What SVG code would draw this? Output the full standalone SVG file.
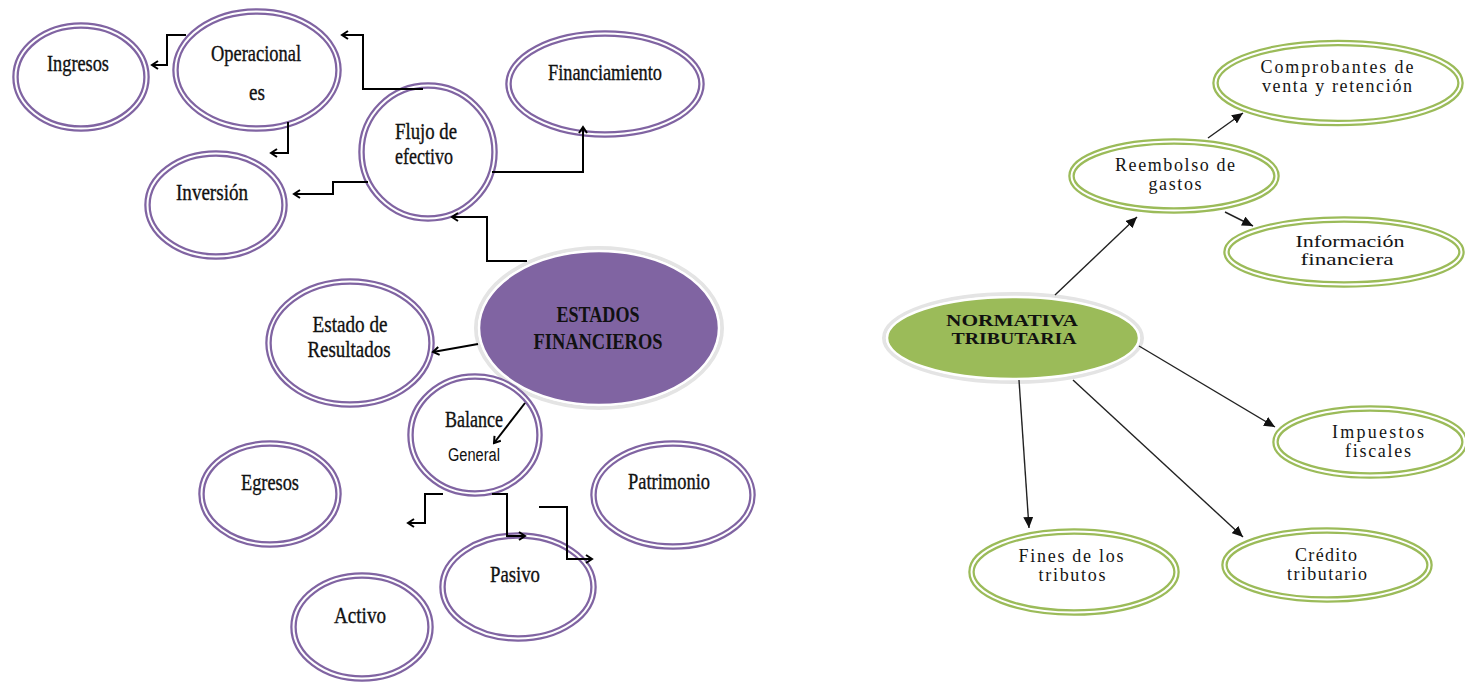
<svg xmlns="http://www.w3.org/2000/svg" width="1465" height="682" viewBox="0 0 1465 682">
  <defs>
    <style>
      .pring { fill: #ffffff; stroke: #8064A2; stroke-width: 6.5; }
      .gring { fill: #ffffff; stroke: #9BBB59; stroke-width: 6.5; }
      .gap { fill: none; stroke: #ffffff; stroke-width: 2; }
      .halo { fill: none; stroke: #e4e4e4; stroke-width: 4; }
      .lt { font-family: "Liberation Serif", "Times New Roman", serif; font-size: 23px; fill: #111111; stroke: #111111; stroke-width: 0.35; text-anchor: middle; }
      .ls { font-family: "Liberation Sans Narrow", "Liberation Sans", Arial, sans-serif; font-size: 18px; fill: #111111; text-anchor: middle; }
      .lb { font-family: "Liberation Serif", "Times New Roman", serif; font-size: 24px; font-weight: bold; fill: #111111; text-anchor: middle; }
      .rt { font-family: "Liberation Serif", "Times New Roman", serif; font-size: 18px; fill: #151515; text-anchor: middle; }
      .rs { font-family: "Liberation Serif", "Times New Roman", serif; font-size: 16.5px; fill: #151515; text-anchor: middle; }
      .rb { font-family: "Liberation Serif", "Times New Roman", serif; font-size: 16.5px; font-weight: bold; fill: #111111; text-anchor: middle; }
      .elb { fill: none; stroke: #000000; stroke-width: 2; marker-end: url(#open); }
      .str { fill: none; stroke: #222222; stroke-width: 1.4; marker-end: url(#tri); }
    </style>
    <marker id="open" markerUnits="userSpaceOnUse" markerWidth="10" markerHeight="10" refX="8" refY="5" orient="auto">
      <path d="M2,1 L8,5 L2,9" fill="none" stroke="#000000" stroke-width="2"/>
    </marker>
    <marker id="tri" markerUnits="userSpaceOnUse" markerWidth="12" markerHeight="10" refX="11" refY="5" orient="auto">
      <path d="M0,0 L11,5 L0,10 Z" fill="#111111"/>
    </marker>
  </defs>

  <rect width="1465" height="682" fill="#ffffff"/>

  <!-- Left map: Estados financieros -->
  <g id="n-ingresos">
    <ellipse class="pring" cx="81" cy="77" rx="65.5" ry="51.5"/>
    <ellipse class="gap" cx="81" cy="77" rx="65.5" ry="51.5"/>
    <text class="lt" x="78" y="71" textLength="62" lengthAdjust="spacingAndGlyphs">Ingresos</text>
  </g>
  <g id="n-operacionales">
    <ellipse class="pring" cx="257" cy="70" rx="81.5" ry="58.5"/>
    <ellipse class="gap" cx="257" cy="70" rx="81.5" ry="58.5"/>
    <text class="lt" x="256" y="61" textLength="90" lengthAdjust="spacingAndGlyphs">Operacional</text>
    <text class="lt" x="257" y="100" textLength="16" lengthAdjust="spacingAndGlyphs">es</text>
  </g>
  <g id="n-inversion">
    <ellipse class="pring" cx="216" cy="205" rx="68.5" ry="51.5"/>
    <ellipse class="gap" cx="216" cy="205" rx="68.5" ry="51.5"/>
    <text class="lt" x="212" y="200" textLength="72" lengthAdjust="spacingAndGlyphs">Inversión</text>
  </g>
  <g id="n-flujo">
    <ellipse class="pring" cx="428" cy="152" rx="66.5" ry="66.5"/>
    <ellipse class="gap" cx="428" cy="152" rx="66.5" ry="66.5"/>
    <text class="lt" x="426" y="139" textLength="62" lengthAdjust="spacingAndGlyphs">Flujo de</text>
    <text class="lt" x="424" y="164" textLength="58" lengthAdjust="spacingAndGlyphs">efectivo</text>
  </g>
  <g id="n-financiamiento">
    <ellipse class="pring" cx="605" cy="84" rx="96.5" ry="50.5"/>
    <ellipse class="gap" cx="605" cy="84" rx="96.5" ry="50.5"/>
    <text class="lt" x="605" y="80" textLength="114" lengthAdjust="spacingAndGlyphs">Financiamiento</text>
  </g>
  <g id="n-estados">
    <ellipse class="halo" cx="599" cy="328" rx="123" ry="80"/>
    <ellipse cx="599" cy="328" rx="120" ry="77" fill="#8064A2" stroke="#ffffff" stroke-width="2.5"/>
    <text class="lb" x="598" y="322" textLength="83" lengthAdjust="spacingAndGlyphs">ESTADOS</text>
    <text class="lb" x="598" y="349" textLength="129" lengthAdjust="spacingAndGlyphs">FINANCIEROS</text>
  </g>
  <g id="n-resultados">
    <ellipse class="pring" cx="350" cy="343" rx="81.5" ry="61.5"/>
    <ellipse class="gap" cx="350" cy="343" rx="81.5" ry="61.5"/>
    <text class="lt" x="350" y="332" textLength="75" lengthAdjust="spacingAndGlyphs">Estado de</text>
    <text class="lt" x="349" y="357" textLength="83" lengthAdjust="spacingAndGlyphs">Resultados</text>
  </g>
  <g id="n-balance">
    <ellipse class="pring" cx="475" cy="435" rx="64.5" ry="58.5"/>
    <ellipse class="gap" cx="475" cy="435" rx="64.5" ry="58.5"/>
    <text class="lt" x="474" y="427" textLength="58" lengthAdjust="spacingAndGlyphs">Balance</text>
    <text class="ls" x="474" y="461" textLength="52" lengthAdjust="spacingAndGlyphs">General</text>
  </g>
  <g id="n-egresos">
    <ellipse class="pring" cx="270" cy="494" rx="68.5" ry="50.5"/>
    <ellipse class="gap" cx="270" cy="494" rx="68.5" ry="50.5"/>
    <text class="lt" x="270" y="490" textLength="58" lengthAdjust="spacingAndGlyphs">Egresos</text>
  </g>
  <g id="n-patrimonio">
    <ellipse class="pring" cx="673" cy="495" rx="79.5" ry="51.5"/>
    <ellipse class="gap" cx="673" cy="495" rx="79.5" ry="51.5"/>
    <text class="lt" x="669" y="489" textLength="82" lengthAdjust="spacingAndGlyphs">Patrimonio</text>
  </g>
  <g id="n-pasivo">
    <ellipse class="pring" cx="518" cy="587" rx="75.5" ry="51.5"/>
    <ellipse class="gap" cx="518" cy="587" rx="75.5" ry="51.5"/>
    <text class="lt" x="515" y="582" textLength="50" lengthAdjust="spacingAndGlyphs">Pasivo</text>
  </g>
  <g id="n-activo">
    <ellipse class="pring" cx="362" cy="627" rx="68.5" ry="51.5"/>
    <ellipse class="gap" cx="362" cy="627" rx="68.5" ry="51.5"/>
    <text class="lt" x="360" y="623" textLength="52" lengthAdjust="spacingAndGlyphs">Activo</text>
  </g>

  <!-- Right map: Normativa tributaria -->
  <g id="n-normativa">
    <ellipse class="halo" cx="1013" cy="338" rx="129" ry="44"/>
    <ellipse cx="1013" cy="338" rx="126" ry="41" fill="#9BBB59" stroke="#ffffff" stroke-width="2.5"/>
    <text class="rb" x="1012" y="326" textLength="132" lengthAdjust="spacingAndGlyphs">NORMATIVA</text>
    <text class="rb" x="1014" y="344" textLength="125" lengthAdjust="spacingAndGlyphs">TRIBUTARIA</text>
  </g>
  <g id="n-reembolso">
    <ellipse class="gring" cx="1174" cy="176" rx="102.5" ry="34.5"/>
    <ellipse class="gap" cx="1174" cy="176" rx="102.5" ry="34.5"/>
    <text class="rt" x="1175" y="171" textLength="120" lengthAdjust="spacing">Reembolso de</text>
    <text class="rt" x="1175" y="190" textLength="53" lengthAdjust="spacing">gastos</text>
  </g>
  <g id="n-comprobantes">
    <ellipse class="gring" cx="1338" cy="83" rx="122.5" ry="40"/>
    <ellipse class="gap" cx="1338" cy="83" rx="122.5" ry="40"/>
    <text class="rt" x="1337" y="73" textLength="153" lengthAdjust="spacing">Comprobantes de</text>
    <text class="rt" x="1337" y="92" textLength="150" lengthAdjust="spacing">venta y retención</text>
  </g>
  <g id="n-informacion">
    <ellipse class="gring" cx="1344" cy="252" rx="117.5" ry="32.5"/>
    <ellipse class="gap" cx="1344" cy="252" rx="117.5" ry="32.5"/>
    <text class="rs" x="1350" y="247" textLength="109" lengthAdjust="spacingAndGlyphs">Información</text>
    <text class="rs" x="1347" y="265" textLength="93" lengthAdjust="spacingAndGlyphs">financiera</text>
  </g>
  <g id="n-impuestos">
    <ellipse class="gring" cx="1370" cy="442" rx="94.5" ry="33.5"/>
    <ellipse class="gap" cx="1370" cy="442" rx="94.5" ry="33.5"/>
    <text class="rt" x="1378" y="438" textLength="92" lengthAdjust="spacing">Impuestos</text>
    <text class="rt" x="1378" y="457" textLength="66" lengthAdjust="spacing">fiscales</text>
  </g>
  <g id="n-credito">
    <ellipse class="gring" cx="1327" cy="565" rx="102.5" ry="34.5"/>
    <ellipse class="gap" cx="1327" cy="565" rx="102.5" ry="34.5"/>
    <text class="rt" x="1326" y="561" textLength="62" lengthAdjust="spacing">Crédito</text>
    <text class="rt" x="1327" y="580" textLength="80" lengthAdjust="spacing">tributario</text>
  </g>
  <g id="n-fines">
    <ellipse class="gring" cx="1074" cy="572" rx="102.5" ry="40.5"/>
    <ellipse class="gap" cx="1074" cy="572" rx="102.5" ry="40.5"/>
    <text class="rt" x="1071" y="562" textLength="105" lengthAdjust="spacing">Fines de los</text>
    <text class="rt" x="1072" y="581" textLength="67" lengthAdjust="spacing">tributos</text>
  </g>

  <!-- Connectors -->
  <g id="connectors">
    <path class="elb" d="M186 35 H167 V65 H152"/>
    <path class="elb" d="M288 122 V153 H271"/>
    <path class="elb" d="M368 182 H333 V194 H294"/>
    <path class="elb" d="M423 89 H363 V35 H342"/>
    <path class="elb" d="M492 172 H583 V127"/>
    <path class="elb" d="M527 261 H487 V217 H452"/>
    <path class="elb" d="M478 344 L433 352"/>
    <path class="elb" d="M525 403 L494 443"/>
    <path class="elb" d="M443 494 H425 V523 H408"/>
    <path class="elb" d="M492 494 H507 V536 H525"/>
    <path class="elb" d="M539 507 H567 V559 H592"/>

    <path class="str" d="M1055 295 L1137 217"/>
    <path class="str" d="M1208 138 L1243 113"/>
    <path class="str" d="M1225 212 L1253 226"/>
    <path class="str" d="M1139 346 L1275 427"/>
    <path class="str" d="M1073 380 L1243 537"/>
    <path class="str" d="M1019 380 L1029 528"/>
  </g>
</svg>
